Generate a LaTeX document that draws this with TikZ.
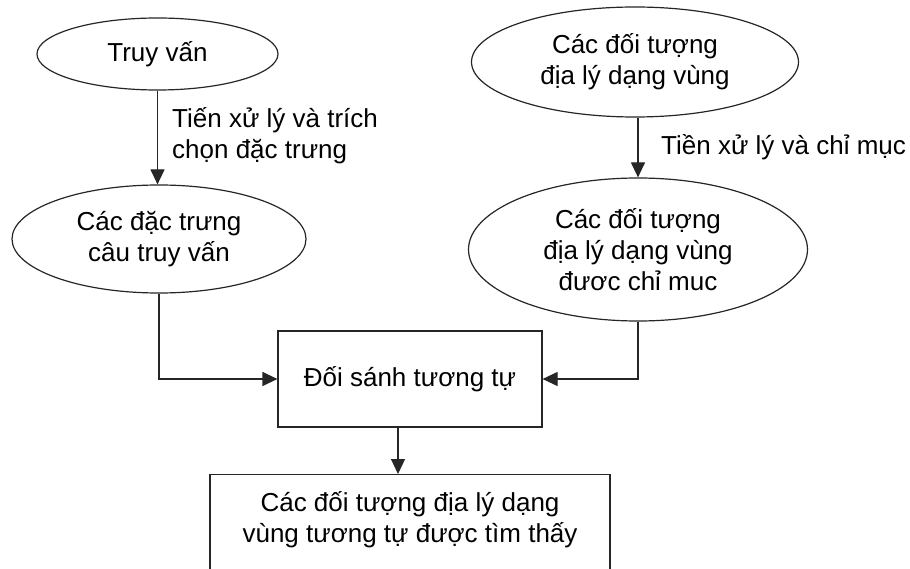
\documentclass[tikz,border=0pt]{standalone}
\usepackage{fontspec}
\setmainfont{Liberation Sans}
\usetikzlibrary{shapes.geometric,arrows.meta}
\tikzset{
  every node/.style={font=\fontsize{26}{31}\selectfont},
  oval/.style={draw=black!85, line width=1.2pt, ellipse, inner sep=0pt, align=center},
  box/.style={draw=black!85, line width=1.2pt, rectangle, inner sep=0pt, align=center},
  conn/.style={draw=black!85, line width=1.2pt, -{Triangle[length=15pt,width=14pt]}},
  lbl/.style={anchor=west, align=left, inner sep=0pt}
}
\begin{document}
\begin{tikzpicture}[x=1pt,y=-1pt]
\clip (0,0) rectangle (910,569);
\fill[white] (0,0) rectangle (910,569);
\node[oval, minimum width=241pt, minimum height=72pt] (q) at (157.5,54) {Truy vấn};
\node[oval, minimum width=294pt, minimum height=108pt] (qf) at (159,239) {Các đặc trưng\\câu truy vấn};
\node[oval, minimum width=327pt, minimum height=110pt] (obj) at (635,62) {Các đối tượng\\địa lý dạng vùng};
\node[oval, minimum width=339pt, minimum height=143pt] (idx) at (638,249.5) {Các đối tượng\\địa lý dạng vùng\\đươc chỉ muc};
\node[box, minimum width=264pt, minimum height=96pt] (match) at (410,379) {Đối sánh tương tự};
\node[box, anchor=north, minimum width=400pt, minimum height=140pt, text depth=85pt, inner ysep=17pt] (res) at (410,474) {Các đối tượng địa lý dạng\\vùng tương tự được tìm thấy};
\node[lbl] (l1) at (172,136) {Tiến xử lý và trích\\chọn đặc trưng};
\node[lbl] (l2) at (661,147) {Tiền xử lý và chỉ mục};
\draw[conn] (q.south) -- (q.south |- qf.north);
\draw[conn] (idx.north |- obj.south) -- (idx.north);
\draw[conn] (qf.south) |- (match.west);
\draw[conn] (idx.south) |- (match.east);
\draw[conn] ([xshift=-12pt]match.south) -- ([xshift=-12pt]match.south |- res.north);
\end{tikzpicture}
\end{document}
